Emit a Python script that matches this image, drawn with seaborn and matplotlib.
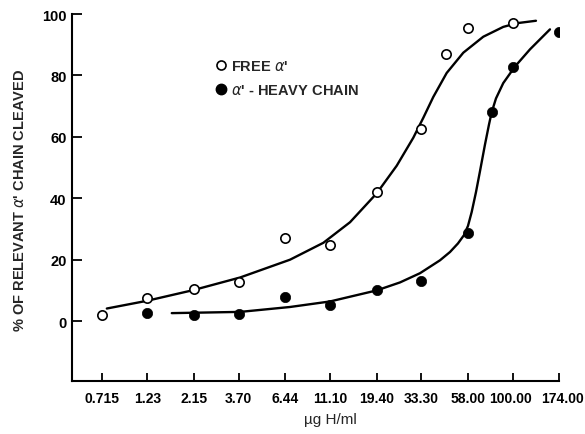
import matplotlib
matplotlib.use("Agg")
import matplotlib.pyplot as plt
import matplotlib.transforms as mtransforms
import seaborn as sns
import pandas as pd
from matplotlib.lines import Line2D

# ---- data ----
tick_values = [0.715, 1.23, 2.15, 3.70, 6.44, 11.10, 19.40, 33.30, 58.00, 100.00, 174.00]
tick_labels = ["0.715", "1.23", "2.15", "3.70", "6.44", "11.10", "19.40",
               "33.30", "58.00", "100.00", "174.00"]

free_x = [0.715, 1.23, 2.15, 3.70, 6.44, 11.10, 19.40, 33.30, 44.6, 58.00, 100.00]
free_y = [2.0, 7.6, 10.3, 12.6, 27.0, 24.7, 42.0, 62.4, 87.0, 95.5, 97.0]

heavy_x = [1.23, 2.15, 3.70, 6.44, 11.10, 19.40, 33.30, 58.00, 77.8, 100.00, 174.00]
heavy_y = [2.5, 2.0, 2.4, 7.8, 5.3, 10.2, 13.2, 28.6, 68.2, 82.9, 94.2]

# hand-drawn fitted curves
free_curve_x = [0.757, 1.224, 2.143, 3.757, 6.853, 10.23, 14.10, 19.43, 24.72,
                30.17, 34.03, 38.38, 45.08, 55.05, 70.0, 89.0, 104.6, 131.9]
free_curve_y = [4.1, 6.6, 10.1, 14.2, 20.0, 25.5, 32.2, 41.6, 50.6,
                59.7, 66.2, 73.0, 80.8, 87.4, 92.6, 95.8, 97.0, 97.8]

heavy_curve_x = [1.653, 3.757, 6.853, 11.08, 19.43, 25.72, 32.71, 41.59, 46.91,
                 51.64, 55.51, 58.24, 60.88, 64.12, 67.28, 71.45, 74.97, 77.44,
                 81.55, 89.0, 102.5, 122.8, 156.1]
heavy_curve_y = [2.6, 3.0, 4.6, 6.4, 10.0, 12.6, 15.6, 19.8, 22.5,
                 25.3, 28.0, 31.0, 35.5, 42.0, 48.8, 57.5, 64.0, 68.0,
                 72.5, 77.5, 82.9, 88.5, 95.0]

sns.set_style("ticks")
plt.rcParams['font.family'] = ['Liberation Sans', 'DejaVu Sans']

fig = plt.figure(figsize=(5.85, 4.35), dpi=100)
ax = fig.add_axes([72/585, 1-382/435, (559-72)/585, (382-15)/435])

curves = pd.DataFrame({
    "x": free_curve_x + heavy_curve_x,
    "y": free_curve_y + heavy_curve_y,
    "series": ["free"] * len(free_curve_x) + ["heavy"] * len(heavy_curve_x),
})
sns.lineplot(data=curves, x="x", y="y", units="series", estimator=None,
             sort=False, ax=ax, color="black", lw=1.7, legend=False)
sns.scatterplot(x=free_x, y=free_y, ax=ax, marker="o", s=45,
                facecolor="white", edgecolor="black", linewidth=1.2, zorder=5)
sns.scatterplot(x=heavy_x, y=heavy_y, ax=ax, marker="o", s=55,
                color="black", edgecolor="black", linewidth=0.5, zorder=5)

ax.set_xscale("log")
ax.set_xlim(0.498, 174.0)
ax.set_ylim(-19.5, 100)
ax.set_xticks(tick_values)
ax.set_xticklabels(tick_labels)
ax.minorticks_off()
ax.set_yticks([0, 20, 40, 60, 80, 100])
ax.set_yticklabels(["0", "20", "40", "60", "80", "100"])

for sp in ["top", "right"]:
    ax.spines[sp].set_visible(False)
for sp in ["left", "bottom"]:
    ax.spines[sp].set_linewidth(1.5)
    ax.spines[sp].set_color("black")

ax.tick_params(axis="x", direction="in", length=6, width=1.3, pad=7,
               labelsize=10, colors="black")
ax.tick_params(axis="y", direction="in", length=7, width=1.3, pad=4,
               labelsize=10.5, colors="black")
for lab in ax.get_xticklabels() + ax.get_yticklabels():
    lab.set_fontweight("bold")

# nudge the two right-most labels apart, as in the original
xt = ax.get_xticklabels()
xt[-1].set_transform(xt[-1].get_transform() +
                     mtransforms.ScaledTranslation(2.5/72, 0, fig.dpi_scale_trans))
xt[-2].set_transform(xt[-2].get_transform() +
                     mtransforms.ScaledTranslation(-2/72, 0, fig.dpi_scale_trans))

ax.set_xlabel("")
ax.set_ylabel("")
fig.text(20/585, 1-200/435, "% OF RELEVANT $\\alpha$' CHAIN CLEAVED",
         rotation=90, ha="center", va="center", fontsize=10.5, fontweight="bold")
fig.text(330/585, 1-420/435, "µg H/ml", ha="center", va="center", fontsize=11)

handles = [
    Line2D([], [], marker="o", ls="none", markerfacecolor="white",
           markeredgecolor="black", markeredgewidth=1.2, markersize=6.5),
    Line2D([], [], marker="o", ls="none", markerfacecolor="black",
           markeredgecolor="black", markersize=7.5),
]
leg = ax.legend(handles, ["FREE $\\alpha$'", "$\\alpha$' - HEAVY CHAIN"],
                loc="upper left", bbox_to_anchor=(217/585, 1-60/435),
                bbox_transform=fig.transFigure, frameon=False,
                handlelength=0.6, handletextpad=0.35, labelspacing=0.7,
                borderpad=0, borderaxespad=0,
                prop={"size": 10.5, "weight": "bold"})

fig.savefig("out.png", dpi=100)
